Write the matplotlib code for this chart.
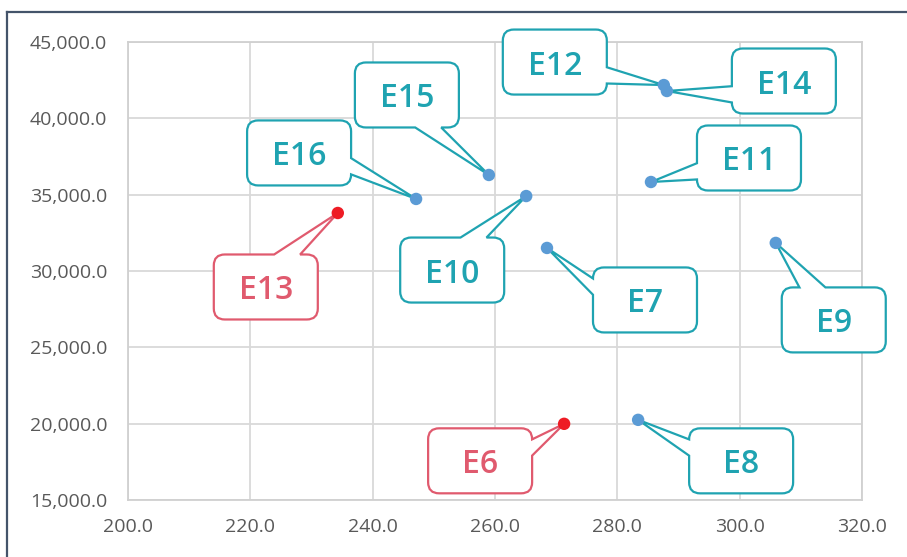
import matplotlib
matplotlib.use('Agg')
from matplotlib import pyplot as plt
from matplotlib.path import Path
from matplotlib.patches import PathPatch
from matplotlib.lines import Line2D
from matplotlib.ticker import FuncFormatter, MultipleLocator
from matplotlib.transforms import IdentityTransform

plt.rcParams['font.family'] = ['Open Sans', 'DejaVu Sans']

names = ['E6', 'E7', 'E8', 'E9', 'E10', 'E11', 'E12', 'E13', 'E14', 'E15', 'E16']
xs = [271.3, 268.5, 283.4, 305.9, 265.1, 285.5, 287.6, 234.3, 288.1, 259.0, 247.1]
ys = [19990, 31510, 20250, 31840, 34910, 35830, 42180, 33800, 41790, 36290, 34720]
flagged = ['E6', 'E13']

# where each label box sits relative to its point (pixels, x right / y up)
offsets = {
    'E6': (-84, -37), 'E7': (98, -52), 'E8': (103, -41), 'E9': (58, -77),
    'E10': (-74, -74), 'E11': (98, 24), 'E12': (-109, 23), 'E13': (-72, -74),
    'E14': (117, 10), 'E15': (-82, 80), 'E16': (-117, 46),
}

TEAL = '#1FA3B1'
PINK = '#E05A6E'
BLUE = '#5B9BD5'
RED = '#EE1C25'


def callout_path(px, py, cx, cy, w=104, h=65, r=11):
    x0, x1 = cx - w / 2, cx + w / 2
    y0, y1 = cy - h / 2, cy + h / 2
    dx = (px - cx) / (w / 2)
    dy = (py - cy) / (h / 2)
    if abs(dx) > abs(dy):
        side = 'right' if dx > 0 else 'left'
        s = 1 if dy > 0 else -1
        b = sorted([cy + s * 0.16 * h / 2, cy + s * 0.66 * h / 2])
    else:
        side = 'top' if dy > 0 else 'bottom'
        s = 1 if dx > 0 else -1
        b = sorted([cx + s * 0.16 * w / 2, cx + s * 0.66 * w / 2])
    L, C = Path.LINETO, Path.CURVE3
    verts, codes = [(x0 + r, y0)], [Path.MOVETO]
    if side == 'bottom':
        verts += [(b[0], y0), (px, py), (b[1], y0)]
        codes += [L] * 3
    verts += [(x1 - r, y0), (x1, y0), (x1, y0 + r)]
    codes += [L, C, C]
    if side == 'right':
        verts += [(x1, b[0]), (px, py), (x1, b[1])]
        codes += [L] * 3
    verts += [(x1, y1 - r), (x1, y1), (x1 - r, y1)]
    codes += [L, C, C]
    if side == 'top':
        verts += [(b[1], y1), (px, py), (b[0], y1)]
        codes += [L] * 3
    verts += [(x0 + r, y1), (x0, y1), (x0, y1 - r)]
    codes += [L, C, C]
    if side == 'left':
        verts += [(x0, b[1]), (px, py), (x0, b[0])]
        codes += [L] * 3
    verts += [(x0, y0 + r), (x0, y0), (x0 + r, y0)]
    codes += [L, C, C]
    verts.append((x0 + r, y0))
    codes.append(Path.CLOSEPOLY)
    return Path(verts, codes)


def plot():
    fig = plt.figure(figsize=(9.07, 5.57), dpi=100)
    ax = fig.add_axes([128 / 907, 57 / 557, 734 / 907, 458 / 557])
    ax.set_xlim(200, 320)
    ax.set_ylim(15000, 45000)
    ax.xaxis.set_major_locator(MultipleLocator(20))
    ax.yaxis.set_major_locator(MultipleLocator(5000))
    ax.xaxis.set_major_formatter(FuncFormatter(lambda v, p: f'{v:,.1f}'))
    ax.yaxis.set_major_formatter(FuncFormatter(lambda v, p: f'{v:,.1f}'))
    ax.tick_params(length=0, labelsize=14, labelcolor='#595959')
    ax.tick_params(axis='y', pad=15)
    ax.tick_params(axis='x', pad=13)
    ax.grid(True, color='#D9D9D9', lw=1.3)
    ax.set_axisbelow(True)
    for sp in ax.spines.values():
        sp.set_color('#D0D0D0')
        sp.set_linewidth(1.3)

    cols = [RED if n in flagged else BLUE for n in names]
    ax.scatter(xs, ys, s=80, c=cols, zorder=4, clip_on=False, linewidths=0)

    fig.canvas.draw()
    for n, x, y in zip(names, xs, ys):
        px, py = ax.transData.transform((x, y))
        ox, oy = offsets[n]
        cx, cy = px + ox, py + oy
        ec = PINK if n in flagged else TEAL
        patch = PathPatch(callout_path(px, py, cx, cy), transform=IdentityTransform(),
                          facecolor='white', edgecolor=ec, lw=1.6, zorder=3,
                          clip_on=False, joinstyle='miter')
        ax.add_patch(patch)
        ax.text(cx, cy, n, transform=IdentityTransform(), color=ec, fontsize=23,
                fontweight='semibold', ha='center', va='center_baseline',
                zorder=5, clip_on=False)

    fig.add_artist(Line2D([7, 907], [545, 545], transform=IdentityTransform(),
                          color='#44546A', lw=1.6))
    fig.add_artist(Line2D([7, 7], [0, 545], transform=IdentityTransform(),
                          color='#44546A', lw=1.6))
    fig.savefig('out.png', dpi=100)


if __name__ == '__main__':
    plot()
